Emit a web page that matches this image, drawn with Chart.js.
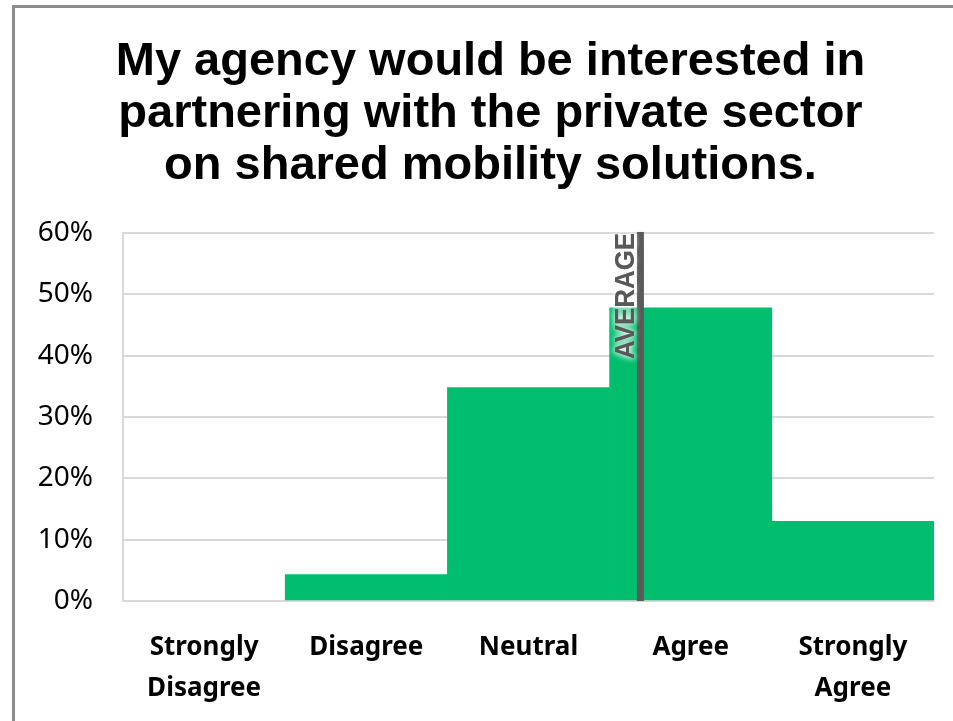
<!DOCTYPE html>
<html>
<head>
<meta charset="utf-8">
<script src="https://cdn.jsdelivr.net/npm/chart.js@4"></script>
<style>
  html, body { margin: 0; padding: 0; background: #fff; }
  #frame {
    position: absolute; left: 12px; top: 5px; width: 941px; height: 716px;
    border-top: 3px solid #8c8c8c; border-left: 3px solid #8c8c8c;
    box-sizing: border-box;
  }
  #wrap { position: absolute; left: 0; top: 0; width: 938px; height: 713px; }
</style>
</head>
<body>
<div id="frame"><div id="wrap"><canvas id="chart"></canvas></div></div>
<script>
var categories = [["Strongly", "Disagree"], "Disagree", "Neutral", "Agree", ["Strongly", "Agree"]];
var shares = [0, 4.3, 34.8, 47.8, 13.0];
var averageScore = 3.69; // on the 1..5 answer scale
var yTicks = [0, 10, 20, 30, 40, 50, 60];

// nudge the title a bit right so it centres like the original
var titleShift = {
  id: "titleShift",
  afterLayout: function (chart) {
    var t = chart.titleBlock;
    if (t) { t.left += 16; t.right += 16; }
  }
};

var averageLine = {
  id: "averageLine",
  afterDatasetsDraw: function (chart) {
    var ctx = chart.ctx;
    var x = chart.scales.x.getPixelForValue(averageScore - 1);
    var top = chart.chartArea.top - 1;
    var bottom = chart.chartArea.bottom;
    ctx.save();
    ctx.fillStyle = "#595959";
    ctx.fillRect(x - 3.5, top, 7, bottom - top);

    // rotated label, left of the line
    ctx.translate(x - 6, top + 1);
    ctx.rotate(-Math.PI / 2);
    ctx.font = "bold 28px 'Liberation Sans', Arial, sans-serif";
    var w = ctx.measureText("AVERAGE").width;
    ctx.scale(126 / w, 1);
    ctx.textAlign = "right";
    ctx.textBaseline = "alphabetic";
    ctx.shadowColor = "rgba(255,255,255,0.95)";
    ctx.shadowBlur = 6;
    ctx.fillStyle = "#595959";
    ctx.fillText("AVERAGE", 0, 0);
    ctx.fillText("AVERAGE", 0, 0);
    ctx.restore();
  }
};

new Chart("chart", {
  type: "bar",
  data: {
    labels: categories,
    datasets: [{
      data: shares,
      backgroundColor: function (c) { return c.raw ? "#00be6e" : "rgba(0,0,0,0)"; },
      barPercentage: 1,
      categoryPercentage: 1
    }]
  },
  options: {
    responsive: true,
    maintainAspectRatio: false,
    animation: false,
    layout: { padding: { left: 0, right: 19, top: 0, bottom: 0 } },
    plugins: {
      legend: { display: false },
      tooltip: { enabled: false },
      title: {
        display: true,
        text: ["My agency would be interested in", "partnering with the private sector", "on shared mobility solutions."],
        color: "#000",
        font: { family: "'Liberation Sans', Arial, sans-serif", size: 47, weight: "bold", lineHeight: 1.106 },
        padding: { top: 28, bottom: 41 }
      }
    },
    scales: {
      x: {
        grid: { display: false, drawTicks: false },
        border: { display: false },
        ticks: {
          color: "#000",
          padding: 26,
          maxRotation: 0,
          font: { family: "'Noto Sans', sans-serif", size: 26, weight: "bold", lineHeight: 1.577 }
        },
        afterFit: function (s) { s.height = 120; }
      },
      y: {
        min: 0,
        max: 60,
        afterBuildTicks: function (s) { s.ticks = yTicks.map(function (v) { return { value: v }; }); },
        grid: { color: "#d9d9d9", lineWidth: 2, drawTicks: false },
        border: { color: "#d9d9d9", width: 2 },
        ticks: {
          color: "#000",
          padding: 30,
          font: { family: "'Noto Sans', sans-serif", size: 28 },
          callback: function (v) { return v + "%"; }
        },
        afterFit: function (s) { s.width = 108; }
      }
    }
  },
  plugins: [titleShift, averageLine]
});
</script>
</body>
</html>
